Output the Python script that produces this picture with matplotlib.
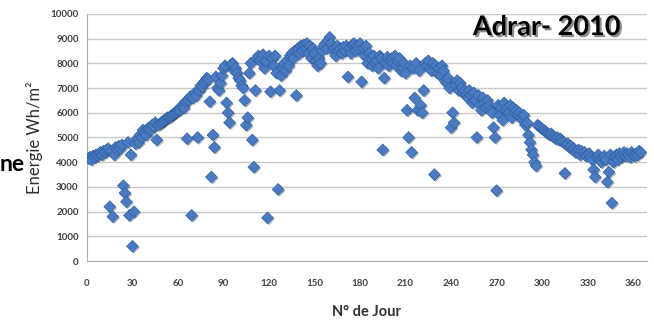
import matplotlib
matplotlib.use('Agg')
import matplotlib.pyplot as plt
import matplotlib.patheffects as pe
import numpy as np

# daily solar energy, Adrar 2010 (Wh/m2)
energy = [
    4150, 4200, 4100, 4250, 4200, 4300, 4250, 4350, 4400, 4300,
    4450, 4400, 4500, 4550, 2200, 4450, 1800, 4300, 4600, 4500,
    4650, 4550, 4700, 3050, 2750, 2400, 4800, 1850, 4300, 600,
    2000, 4750, 4950, 4800, 5100, 5000, 5300, 5200, 5100, 5350,
    5400, 5300, 5500, 5450, 5600, 4900, 5500, 5550, 5600, 5650,
    5700, 5750, 5800, 5800, 5850, 5900, 5950, 6000, 6050, 6100,
    6100, 6250, 6300, 6200, 6450, 4950, 6500, 6650, 1850, 6600,
    6800, 6700, 5000, 6900, 7100, 7050, 7200, 7300, 7400, 7350,
    6450, 3400, 5100, 4600, 7450, 7000, 6900, 7200, 7500, 7800,
    7900, 6400, 6000, 5600, 7950, 8000, 7700, 7800, 7600, 7400,
    7300, 7100, 7000, 6500, 5500, 5800, 7600, 8000, 4900, 3800,
    6900, 8200, 8300, 8100, 8200, 8350, 7800, 8100, 1750, 8300,
    6850, 8200, 7900, 8300, 7600, 2900, 6900, 7500, 7800, 8000,
    7700, 8100, 7900, 8300, 8400, 8200, 8500, 6700, 8600, 8400,
    8700, 8500, 8750, 8600, 8800, 8400, 8700, 8200, 8600, 8400,
    8100, 7900, 8200, 8000, 8500, 8700, 8800, 8600, 8900, 9050,
    8800, 8500, 8600, 8300, 8700, 8500, 8600, 8400, 8650, 8500,
    8700, 7450, 8600, 8400, 8750, 8800, 8500, 8700, 8600, 8800,
    7250, 8600, 8300, 8700, 8000, 8400, 8200, 7900, 8300, 8000,
    8100, 7800, 8300, 8200, 4500, 7400, 8000, 8250, 7900, 8100,
    8200, 8000, 8300, 7900, 8100, 8200, 7700, 7800, 8000, 7600,
    6100, 5000, 7900, 4400, 7800, 6600, 8000, 6100, 7700, 6300,
    6000, 6900, 8000, 7900, 8100, 7800, 7700, 8000, 3500, 7900,
    7600, 7800, 7500, 7900, 7700, 7300, 7200, 7400, 7000, 5400,
    6000, 5600, 7100, 7300, 6900, 7200, 7000, 6800, 6900, 6700,
    6600, 6900, 6700, 6400, 6800, 6500, 5000, 6700, 6300, 6100,
    6600, 6400, 6200, 6500, 6300, 6100, 6000, 5400, 5000, 2850,
    6300, 5900, 6200, 5700, 6400, 6100, 6200, 6000, 6300, 5800,
    6200, 6000, 6100, 5900, 6000, 5800, 5700, 5900, 5500, 5600,
    5100, 4800, 4500, 4300, 4000, 3850, 5500, 5450, 5400, 5350,
    5300, 5250, 5200, 5150, 5100, 5150, 5050, 5000, 4950, 5000,
    4900, 4950, 4850, 4800, 3550, 4700, 4750, 4600, 4650, 4500,
    4550, 4400, 4450, 4500, 4300, 4450, 4350, 4400, 4250, 4300,
    4350, 4200, 4100, 3700, 3400, 4200, 4300, 4100, 4000, 4150,
    4250, 4100, 3200, 3600, 4300, 2350, 4000, 4200, 4300, 4100,
    4350, 4200, 4300, 4400, 4250, 4350, 4300, 4200, 4400, 4300,
    4250, 4350, 4300, 4450, 4400,
]
days = np.arange(1, len(energy) + 1)
xticks = list(range(0, 361, 30))
yticks = list(range(0, 10001, 1000))

plt.rcParams['font.family'] = ['Lato', 'DejaVu Sans']

fig = plt.figure(figsize=(6.54, 3.22), dpi=100)
ax = fig.add_axes([0.133, 0.189, 0.856, 0.768])

ax.scatter(days, energy, marker='D', s=36, color='#4a7bc2', edgecolor='#3161a3',
           linewidth=0.5, zorder=3,
           path_effects=[pe.SimplePatchShadow(offset=(1, -1), alpha=0.35), pe.Normal()])

ax.set_xlim(0, 369)
ax.set_ylim(0, 10000)
ax.set_xticks(xticks)
ax.set_yticks(yticks)
ax.tick_params(length=0, labelsize=7, colors='#404040')
ax.tick_params(axis='x', pad=13)
ax.tick_params(axis='y', pad=6)
for lab in ax.get_xticklabels() + ax.get_yticklabels():
    lab.set_fontweight('bold')
ax.grid(axis='y', color='#c8c8c8', linewidth=1)
ax.set_axisbelow(True)
for s in ['top', 'right']:
    ax.spines[s].set_visible(False)
ax.spines['left'].set_color('#b0b0b0')
ax.spines['bottom'].set_color('#b0b0b0')

ax.set_ylabel('Energie Wh/m²', fontsize=12, color='#303030', labelpad=5)
ax.set_xlabel('N° de Jour', fontsize=10.5, color='#303030', fontweight='bold', labelpad=12)

fig.text(0.723, 0.916, 'Adrar- 2010', fontsize=19.5, fontweight='bold', color='black',
         ha='left', va='center',
         path_effects=[pe.SimplePatchShadow(offset=(1.5, -1.5), alpha=0.45), pe.Normal()])
fig.text(0.0, 0.49, 'ne', fontsize=16.5, fontweight='bold', color='black',
         ha='left', va='center')

fig.savefig('out.png', dpi=100)
